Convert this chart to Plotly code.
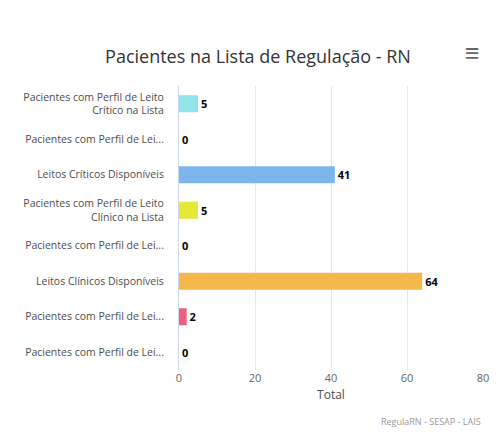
import plotly.graph_objects as go

categories = ["Pacientes com Perfil de Leito<br>Crítico na Lista",
              "Pacientes com Perfil de Lei...",
              "Leitos Críticos Disponíveis",
              "Pacientes com Perfil de Leito<br>Clínico na Lista",
              "Pacientes com Perfil de Lei...",
              "Leitos Clínicos Disponíveis",
              "Pacientes com Perfil de Lei...",
              "Pacientes com Perfil de Lei..."]
values = [5, 0, 41, 5, 0, 64, 2, 0]
colors = ["#91e4ec", "#434348", "#7cb5ec", "#e4e836", "#8085e9", "#f7b84b", "#f15c80", "#90ed7d"]
ticks = [0, 20, 40, 60, 80]
positions = list(range(len(categories)))

fig = go.Figure(go.Bar(
    y=positions, x=values, orientation="h", marker=dict(color=colors, line_width=0),
    width=0.48, text=[f"<b>{v}</b>" for v in values], textposition="outside",
    textfont=dict(size=11, color="#000"), cliponaxis=False))

fig.update_layout(
    width=500, height=444, paper_bgcolor="white", plot_bgcolor="white",
    font=dict(family="Open Sans", color="#333"),
    margin=dict(l=171, r=25, t=78, b=82, autoexpand=False),
    title=dict(text="Pacientes na Lista de Regulação - RN", x=0.5, y=0.905, xanchor="center",
               font=dict(size=18, color="#333")),
    showlegend=False,
    xaxis=dict(range=[0, 80], tickvals=ticks, showgrid=True, gridcolor="#e6e6e6",
               zeroline=False, tickfont=dict(size=11, color="#666"), automargin=False,
               title=dict(text="Total", font=dict(size=12, color="#4d4d4d"), standoff=6),
               ticks="", showline=False),
    yaxis=dict(range=[7.5, -0.5], tickvals=positions, ticktext=categories,
               showline=True, linecolor="#ccd6eb", automargin=False, showgrid=False,
               zeroline=False,
               tickfont=dict(size=10.5, color="#4d4d4d"), ticks="", ticklabelstandoff=12),
    annotations=[
        dict(text="RegulaRN - SESAP - LAIS", x=1.0, xref="paper", xanchor="right",
             y=-0.183, yref="paper", yanchor="middle", showarrow=False,
             font=dict(size=9, color="#999")),
        dict(text="<b>≡</b>", x=0.967, y=1.12, xref="paper", yref="paper",
             xanchor="center", yanchor="middle", showarrow=False,
             font=dict(size=26, color="#666"))
    ]
)
fig.write_html("out.html")
